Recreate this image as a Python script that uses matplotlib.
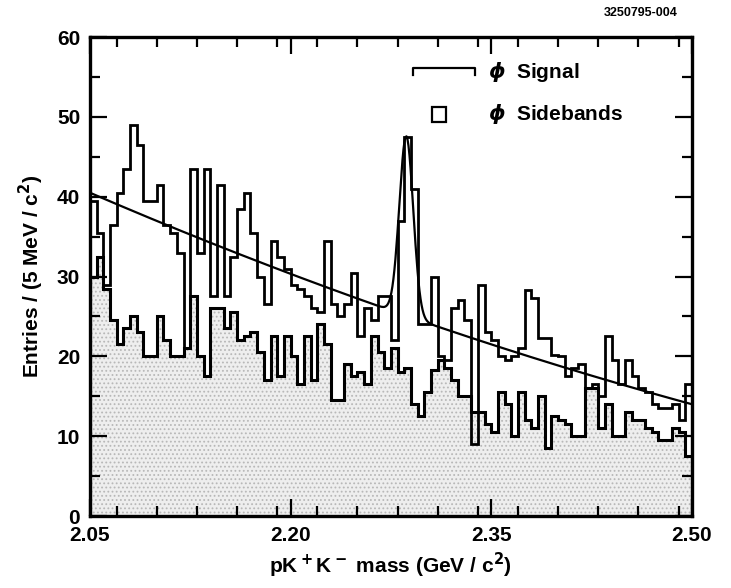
# Lambda_c -> p K+ K- : spettro di massa, segnale phi e sidebands
import numpy as np
import matplotlib
matplotlib.use('Agg')
import matplotlib.pyplot as plt
from matplotlib.ticker import MultipleLocator, FixedLocator

# range in massa e larghezza bin (5 MeV)
mass_lo, mass_hi, n_bins = 2.05, 2.50, 90

# conteggi, bin da 5 MeV
signal_counts = [
    39.5, 35.5, 29, 36.5, 40.5, 43.5, 49, 46.5, 39.5, 39.5,
    41.5, 36.5, 35.5, 33, 21, 43.5, 33, 43.5, 27.5, 41.5,
    27.5, 32.5, 38.5, 40.5, 35.5, 30, 26.5, 34.5, 32.5, 31,
    29, 28.5, 27.5, 26, 25.5, 34.5, 26.5, 25, 26.5, 30.5,
    22.5, 26, 24.5, 27.5, 27.5, 22, 37, 47.5, 41, 24,
    24, 30, 20, 19.5, 26, 27, 24.5, 9, 29, 23,
    22, 20, 19.5, 20, 21, 28.3, 27.3, 22.3, 22.3, 20.2,
    20, 17.5, 18.5, 19, 16, 16.5, 15, 22.5, 19.5, 16.5,
    19.5, 17.5, 16, 15.5, 14, 13.5, 13.5, 14, 12, 16.5,
]
sideband_counts = [
    30, 32.5, 28.5, 24.5, 21.5, 23.5, 25, 23, 20, 20,
    25, 22, 20, 20, 21, 27.5, 20, 17.5, 26, 26,
    23.5, 25.5, 22, 22.5, 23, 20.5, 17, 22.5, 17.5, 22.5,
    20, 16.5, 22.5, 17, 24, 21.5, 14.5, 14.5, 19, 17.5,
    18, 16.5, 22.5, 20.5, 18.5, 21, 18, 18.5, 14, 12.5,
    15.5, 18.3, 19.5, 18.5, 17, 15, 15, 13, 13, 11.5,
    10.5, 15.5, 14, 10, 15.5, 12, 11, 15, 8.5, 12.5,
    12, 11.5, 10, 10, 16, 16, 11, 14, 10, 10,
    13, 12, 12, 11, 10.5, 9.5, 9.5, 11, 10.5, 7.5,
]

# parametri del fit: fondo quadratico + gaussiana
bkg_coeffs = [40.5, -72.2, 29.6]   # in (m - 2.05)
peak_amp, peak_mean, peak_sigma = 22.5, 2.2865, 0.0052

x_ticks = [2.05, 2.20, 2.35, 2.50]
x_tick_labels = ['2.05', '2.20', '2.35', '2.50']

edges = np.linspace(mass_lo, mass_hi, n_bins + 1)
m = np.linspace(mass_lo, mass_hi, 600)
t = m - mass_lo
fit = bkg_coeffs[0] + bkg_coeffs[1]*t + bkg_coeffs[2]*t**2 \
    + peak_amp*np.exp(-0.5*((m - peak_mean)/peak_sigma)**2)

matplotlib.rc('font', family=['Liberation Sans', 'DejaVu Sans'], weight='bold', size=15)
matplotlib.rc('axes', labelweight='bold')
matplotlib.rc('mathtext', default='bf')
matplotlib.rc('hatch', linewidth=0.8)

fig = plt.figure(figsize=(7.31, 5.88), dpi=100)
ax = fig.add_axes([0.123, 0.1224, 0.8235, 0.8146])

# riempimento puntinato delle sidebands
ax.stairs(sideband_counts, edges, fill=True, facecolor='#eeeeee', edgecolor='#b8b8b8',
          lw=0, hatch='....', zorder=1)
ax.stairs(sideband_counts, edges, color='black', lw=2.2, zorder=2)
ax.stairs(signal_counts, edges, color='black', lw=2.0, baseline=None, zorder=3)
ax.plot(m, fit, color='black', lw=1.6, zorder=4)

ax.set_xlim(mass_lo, mass_hi)
ax.set_ylim(0, 60)
ax.xaxis.set_major_locator(FixedLocator(x_ticks))
ax.set_xticklabels(x_tick_labels)
ax.xaxis.set_minor_locator(MultipleLocator(0.03))
ax.yaxis.set_major_locator(MultipleLocator(10))
ax.yaxis.set_minor_locator(MultipleLocator(5))
ax.tick_params(which='both', direction='in', top=True, right=True, width=1.6, pad=7)
ax.tick_params(which='major', length=12)
ax.tick_params(which='minor', length=7)
for s in ax.spines.values():
    s.set_linewidth(2.4)

ax.set_xlabel(r'pK$^+$K$^-$ mass (GeV / c$^2$)', fontsize=15, labelpad=4)
ax.set_ylabel(r'Entries / (5 MeV / c$^2$)', fontsize=15, labelpad=8)

# legenda disegnata a mano
ax.plot([0.537, 0.537, 0.640, 0.640], [0.921, 0.935, 0.935, 0.921],
        transform=ax.transAxes, color='black', lw=1.6)
ax.add_patch(plt.Rectangle((0.568, 0.823), 0.024, 0.031, transform=ax.transAxes,
                           fill=False, lw=1.6, ec='black'))
ax.text(0.662, 0.928, r'$\mathit{\phi}$  Signal', transform=ax.transAxes,
        va='center', ha='left', fontsize=15)
ax.text(0.662, 0.840, r'$\mathit{\phi}$  Sidebands', transform=ax.transAxes,
        va='center', ha='left', fontsize=15)

fig.text(0.877, 0.978, '3250795-004', ha='center', va='center', fontsize=9)

fig.savefig('out.png', dpi=100)
